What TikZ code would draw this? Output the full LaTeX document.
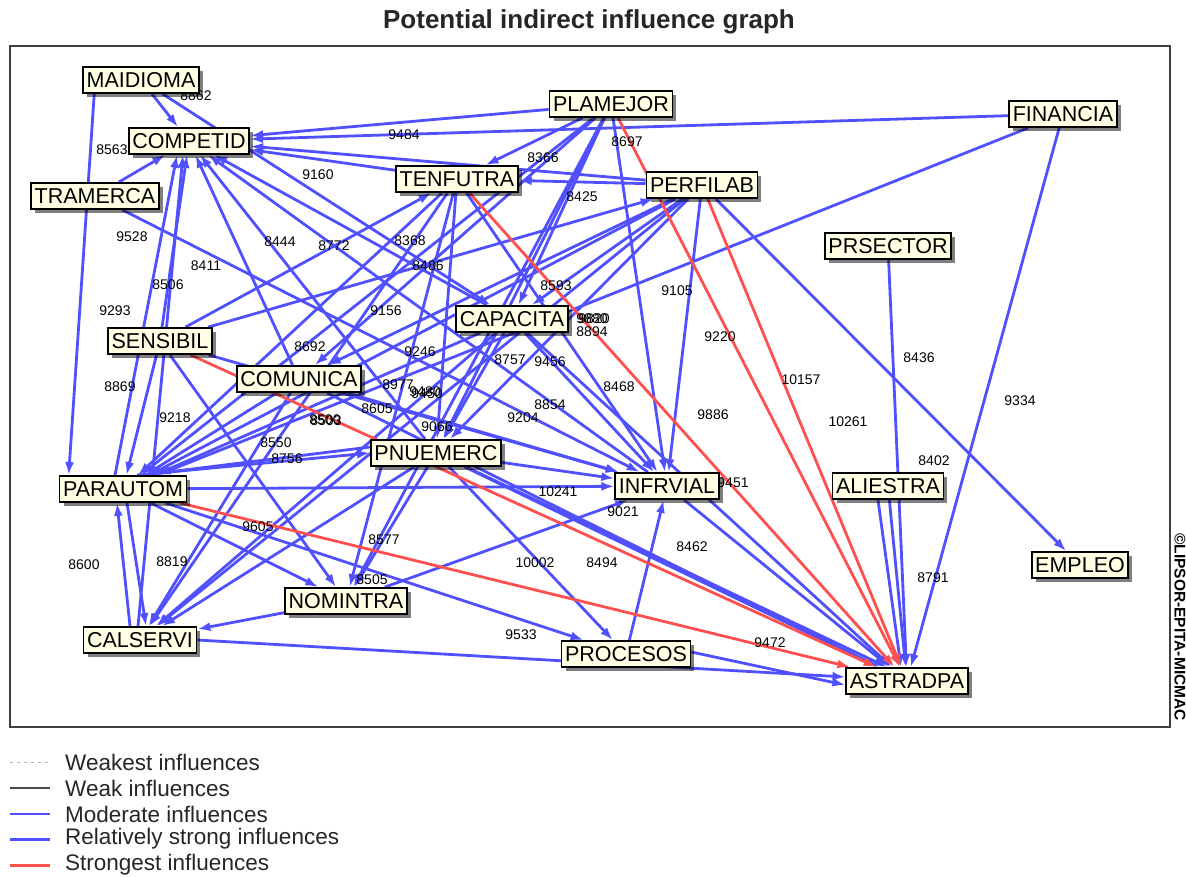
\documentclass[tikz,border=0pt]{standalone}
\usepackage{fontspec}
\setmainfont{Liberation Sans}
\usetikzlibrary{arrows.meta,shadows}
\definecolor{infblue}{RGB}{80,80,255}
\definecolor{infred}{RGB}{255,80,80}
\definecolor{boxfill}{RGB}{255,255,228}
\pgfdeclarelayer{edges}
\pgfsetlayers{edges,main}
\tikzset{
  var/.style={draw=black, line width=1.8pt, fill=boxfill,
    font=\fontsize{21.5}{21.5}\selectfont, inner xsep=3.5pt, inner ysep=0pt,
    minimum height=26pt,
    drop shadow={shadow xshift=4pt, shadow yshift=-4pt, fill=black, opacity=0.5}},
  rel/.style={draw=infblue, line width=2.8pt, -{Latex[length=13pt,width=9pt]}},
  strong/.style={draw=infred, line width=2.8pt, -{Latex[length=13pt,width=9pt]}},
  val/.style={font=\fontsize{14}{14}\selectfont, inner sep=0pt},
  legtext/.style={font=\fontsize{22.5}{22.5}\selectfont, anchor=west, inner sep=0pt, text=black!85},
}
\begin{document}
\begin{tikzpicture}[x=1pt,y=-1pt]
\useasboundingbox (0,0) rectangle (1186,877);

% title and frame
\node[font=\bfseries\fontsize{26}{26}\selectfont, text=black!85] (title) at (589,22) {Potential indirect influence graph};
\draw[line width=1.5pt, draw=black!75] (10,46) rectangle (1170,727);
\node[rotate=-90, font=\bfseries\fontsize{15.5}{15.5}\selectfont, inner sep=0pt] (copy) at (1180,627) {©LIPSOR-EPITA-MICMAC};

% variables
\node[var] (MAI) at (141,80)  {MAIDIOMA};
\node[var] (COM) at (189,141) {COMPETID};
\node[var] (TRA) at (95,196)  {TRAMERCA};
\node[var] (PLA) at (611,104) {PLAMEJOR};
\node[var] (FIN) at (1063,114){FINANCIA};
\node[var] (TEN) at (457,179) {TENFUTRA};
\node[var] (PER) at (702,185) {PERFILAB};
\node[var] (PRS) at (888,246) {PRSECTOR};
\node[var] (CAP) at (512,319) {CAPACITA};
\node[var] (SEN) at (160,341) {SENSIBIL};
\node[var] (CMU) at (299,379) {COMUNICA};
\node[var] (PNU) at (436,453) {PNUEMERC};
\node[var] (PAR) at (123,489) {PARAUTOM};
\node[var] (INF) at (667,486) {INFRVIAL};
\node[var] (ALI) at (888,486) {ALIESTRA};
\node[var] (EMP) at (1080,565){EMPLEO};
\node[var] (NOM) at (346,601) {NOMINTRA};
\node[var] (CAL) at (140,640) {CALSERVI};
\node[var] (PRO) at (626,654) {PROCESOS};
\node[var] (AST) at (907,681) {ASTRADPA};

\begin{pgfonlayer}{edges}
% relatively strong influences
\foreach \a/\b in {MAI/COM, TRA/COM, PLA/COM, FIN/COM, TEN/COM, PER/COM,
    SEN/COM, CMU/COM, PNU/COM, CAP/COM, INF/COM,
    MAI/CAP, TRA/INF,
    PLA/TEN, PLA/PAR, PLA/CMU, PLA/PNU, PLA/CAP, PLA/INF, PLA/NOM,
    PER/TEN, PER/EMP, PER/INF, PER/CAP, PER/PNU, PER/CMU, PER/PAR, PER/CAL, SEN/PER,
    TEN/PAR, TEN/CAL, TEN/PNU, TEN/NOM, TEN/INF, SEN/TEN,
    FIN/PAR, FIN/AST, PRS/AST, ALI/AST, PRO/INF, PAR/PRO, PNU/PRO,
    CAP/INF, CAP/AST, CAP/PAR, CAP/CAL, CAP/PNU,
    CMU/INF, CMU/AST, CMU/PAR, CMU/CAL,
    PNU/INF, PNU/AST, PNU/CAL, PNU/NOM,
    PAR/INF, PAR/NOM,
    SEN/PAR, SEN/NOM, SEN/INF,
    NOM/CAL, NOM/INF, INF/AST}
  \draw[rel] (\a) -- (\b);
\draw[rel] ([xshift=12pt]MAI.south west) -- ([xshift=10pt]PAR.north west);
\draw[rel] ([xshift=-8pt]PAR.north) -- ([xshift=-12pt]COM.south);
\draw[rel] ([xshift=-2pt]CAL.north) -- ([xshift=-6pt]COM.south);
\draw[rel] ([xshift=14pt]PAR.north) -- (PNU.west);
\draw[rel] ([yshift=6pt]PNU.west) -- ([xshift=20pt]PAR.north);
\draw[rel] ([xshift=-10pt]CAL.north) -- ([xshift=-6pt]PAR.south);
\draw[rel] ([xshift=4pt]PAR.south) -- ([xshift=6pt]CAL.north);
\draw[rel] (CAL.east) -- ([yshift=4pt]AST.west);
\draw[rel] ([yshift=2pt]PRO.east) -- ([yshift=-4pt]AST.west);
\draw[rel] ([xshift=-10pt]ALI.south) -- ([xshift=-6pt]AST.north);
\draw[rel] ([xshift=30pt]PNU.south) -- ([xshift=-20pt]AST.north);
% strongest influences
\foreach \a/\b in {PLA/AST, PER/AST, TEN/AST, SEN/AST, PAR/AST}
  \draw[strong] (\a) -- (\b);
% influence values
\foreach \v/\x/\y [count=\i] in {8862/196/96, 8563/112/150, 9484/404/135, 8697/627/142,
    8366/543/158, 9160/318/175, 8425/582/197, 9528/132/237, 8444/280/242, 8772/334/246,
    8368/410/241, 8411/206/266, 8486/428/266, 8506/168/285, 8593/556/286, 9105/677/291,
    9293/115/311, 9156/386/311, 9880/592/319, 9820/594/319, 8894/592/332, 9220/720/337,
    8436/919/358, 8692/310/347, 9246/420/352, 8757/510/360, 9456/550/362, 8869/120/387,
    10157/801/380, 8977/398/385, 9480/425/392, 9450/427/394, 9334/1020/401, 8468/619/387,
    9886/713/415, 8854/550/405, 9204/523/418, 10261/848/422, 9218/175/418, 8605/377/409,
    8500/325/420, 8503/326/421, 9066/437/427, 8550/276/443, 8756/287/459, 8402/934/461,
    9451/733/483, 10241/558/492, 9021/623/512, 9605/258/527, 8577/384/540,
    8462/692/547, 8600/84/565, 8819/172/562, 10002/535/563, 8494/602/563, 8791/933/578,
    8505/372/580, 9533/521/635, 9472/770/643}
  \node[val] (v\i) at (\x,\y) {\v};
\end{pgfonlayer}

% legend
\draw[draw=black!30, line width=1pt, dash pattern=on 3pt off 4pt] (10,762) coordinate (k1a) -- (50,762) coordinate (k1b);
\node[legtext] (t1) at (65,762) {Weakest influences};
\draw[draw=black!70, line width=1.2pt] (10,788) coordinate (k2a) -- (50,788) coordinate (k2b);
\node[legtext] (t2) at (65,788) {Weak influences};
\draw[draw=infblue, line width=1.3pt] (10,814) coordinate (k3a) -- (50,814) coordinate (k3b);
\node[legtext] (t3) at (65,814) {Moderate influences};
\draw[draw=infblue, line width=3pt] (10,839) coordinate (k4a) -- (50,839) coordinate (k4b);
\node[legtext] (t4) at (65,839) {Relatively strong influences};
\draw[draw=infred, line width=3pt] (10,865) coordinate (k5a) -- (50,865) coordinate (k5b);
\node[legtext] (t5) at (65,865) {Strongest influences};
\end{tikzpicture}
\end{document}
